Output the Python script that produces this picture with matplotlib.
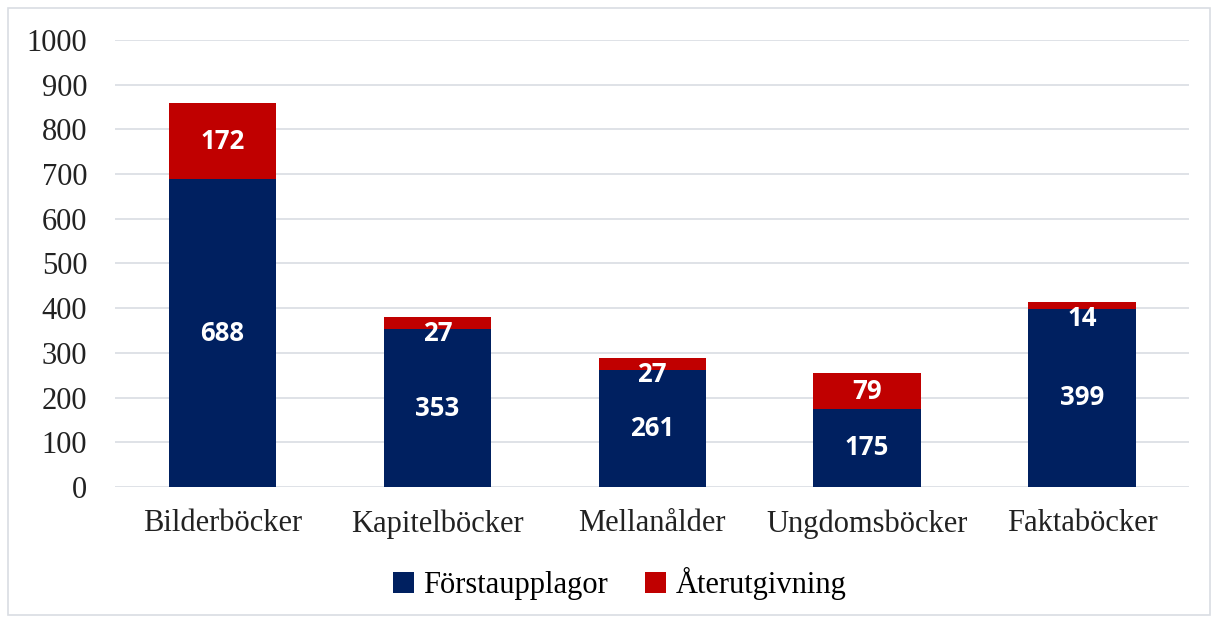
import matplotlib.pyplot as plt
from matplotlib.patches import Rectangle
import numpy as np

categories = ['Bilderböcker', 'Kapitelböcker', 'Mellanålder', 'Ungdomsböcker', 'Faktaböcker']
forsta = [688, 353, 261, 175, 399]
ater = [172, 27, 27, 79, 14]

navy = '#002060'
red = '#C00000'
serif = 'Liberation Serif'

fig = plt.figure(figsize=(12.15, 6.21), dpi=100)
ax = fig.add_axes([0.0947, 0.2158, 0.8843, 0.7198])

x = np.arange(len(categories))
ax.bar(x, forsta, width=0.5, color=navy, label='Förstaupplagor', zorder=3)
ax.bar(x, ater, width=0.5, bottom=forsta, color=red, label='Återutgivning', zorder=3)

lab_kw = dict(color='white', fontsize=18.5, fontweight='bold', family='Open Sans',
              ha='center', zorder=4)
for i in range(len(categories)):
    ax.text(x[i], forsta[i] / 2, str(forsta[i]), va='center', **lab_kw)
    top = forsta[i] + ater[i]
    if ater[i] < 40:
        # small segment: label hangs just below the segment top
        ax.annotate(str(ater[i]), (x[i], top), xytext=(0, -2), textcoords='offset points',
                    va='top', **lab_kw)
    else:
        ax.text(x[i], forsta[i] + ater[i] / 2, str(ater[i]), va='center', **lab_kw)

ax.set_ylim(0, 1000)
ax.set_xlim(-0.5, len(categories) - 0.5)
ax.set_yticks(range(0, 1001, 100))
ax.set_xticks(x)
ax.set_xticklabels(categories)
ax.tick_params(length=0, labelsize=22)
ax.tick_params(axis='x', pad=16)
ax.tick_params(axis='y', pad=20)
for lab in ax.get_xticklabels() + ax.get_yticklabels():
    lab.set_family(serif)
    lab.set_color('#222222')

ax.grid(axis='y', color='#d9dde3', linewidth=1.2, zorder=0)
for s in ax.spines.values():
    s.set_visible(False)

fig.legend(loc='center', bbox_to_anchor=(0.51, 0.06), ncol=2, frameon=False,
           prop={'family': serif, 'size': 22}, handlelength=0.7, handleheight=0.7,
           columnspacing=1.2, handletextpad=0.3)

fig.patches.append(Rectangle((8 / 1215, 6 / 621), 1202 / 1215, 607 / 621,
                             transform=fig.transFigure, fill=False,
                             edgecolor='#d9dde3', linewidth=1.2))

fig.savefig('out.png', dpi=100)
